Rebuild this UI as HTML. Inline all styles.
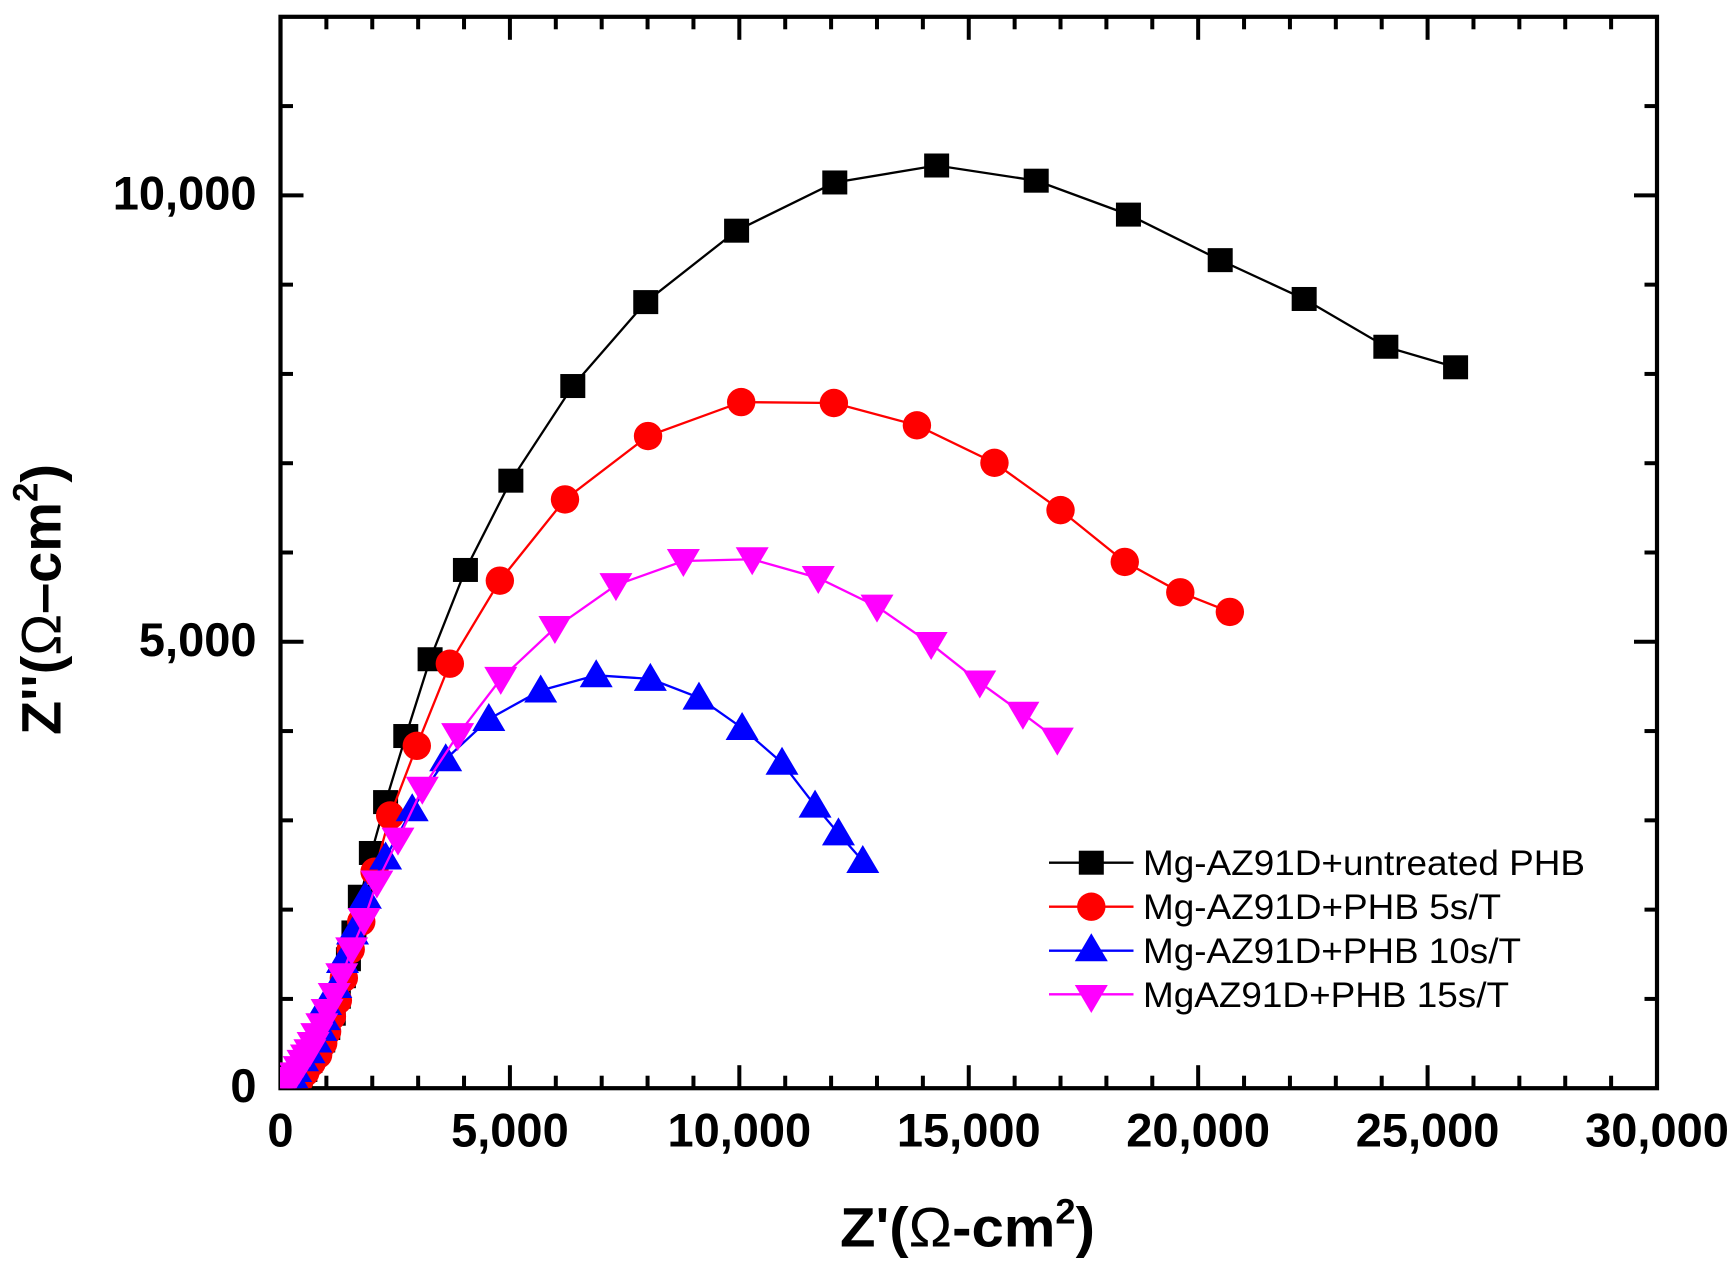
<!DOCTYPE html>
<html lang="en">
<head>
<meta charset="utf-8">
<title>Nyquist plot of Mg-AZ91D with PHB coatings</title>
<style>
html,body{margin:0;padding:0;background:#fff;}
svg{display:block;font-family:"Liberation Sans",Arial,sans-serif;}
</style>
</head>
<body>
<svg id="chart" xmlns="http://www.w3.org/2000/svg" width="1734" height="1271" viewBox="0 0 1734 1271">
  <rect width="1734" height="1271" fill="#fff"/>
  <defs><clipPath id="plot-clip"><rect x="280" y="16.8" width="1377" height="1071.5"/></clipPath></defs>
  <g id="axes"></g>
  <g id="series" clip-path="url(#plot-clip)"></g>
  <g id="legend"></g>
  <text x="840" y="1246.5" font-size="56" font-weight="bold" fill="#000" textLength="255" lengthAdjust="spacingAndGlyphs">Z'(<tspan font-weight="normal">Ω</tspan>-cm<tspan dy="-23" font-size="35">2</tspan><tspan dy="23">)</tspan></text>
  <text transform="translate(60.5 735) rotate(-90)" font-size="56" font-weight="bold" fill="#000" textLength="271" lengthAdjust="spacingAndGlyphs">Z''(<tspan font-weight="normal">Ω</tspan>–cm<tspan dy="-23" font-size="35">2</tspan><tspan dy="23">)</tspan></text>
</svg>
<script>
var xTickLabels = ['0', '5,000', '10,000', '15,000', '20,000', '25,000', '30,000'];
var xTickValues = [0, 5000, 10000, 15000, 20000, 25000, 30000];
var yTickLabels = ['0', '5,000', '10,000'];
var yTickValues = [0, 5000, 10000];
var xMax = 30000;
var yMax = 12000;
var xMinorStep = 1000;
var yMinorStep = 1000;

var seriesNames = ['Mg-AZ91D+untreated PHB', 'Mg-AZ91D+PHB 5s/T', 'Mg-AZ91D+PHB 10s/T', 'MgAZ91D+PHB 15s/T'];

var untreatedX = [25630, 24110, 22330, 20500, 18500, 16490, 14320, 12100, 9960, 7980, 6390, 5040, 4050, 3280, 2750, 2310, 2000, 1760, 1620, 1500, 1390, 1280, 1170, 1050, 940, 800, 660, 550, 450, 360];
var untreatedY = [8070, 8300, 8835, 9270, 9780, 10160, 10330, 10140, 9600, 8800, 7860, 6800, 5800, 4800, 3940, 3200, 2630, 2140, 1740, 1440, 1250, 1020, 830, 670, 530, 400, 300, 200, 100, 30];

var phb5X = [20710, 19630, 18420, 17020, 15580, 13890, 12080, 10060, 8030, 6220, 4800, 3710, 2990, 2410, 2070, 1780, 1550, 1400, 1270, 1140, 1035, 950, 840, 700, 560, 430, 330];
var phb5Y = [5330, 5550, 5890, 6470, 7000, 7420, 7670, 7680, 7300, 6590, 5680, 4750, 3830, 3050, 2420, 1860, 1550, 1230, 980, 800, 630, 500, 370, 280, 170, 80, 20];

var phb10X = [12710, 12180, 11670, 10950, 10080, 9140, 8080, 6900, 5690, 4560, 3620, 2890, 2310, 1870, 1590, 1370, 1225, 1000, 970, 900, 790, 640, 500, 350, 270, 200];
var phb10Y = [2540, 2850, 3160, 3640, 4030, 4370, 4580, 4620, 4450, 4130, 3680, 3120, 2580, 2140, 1740, 1420, 1140, 950, 780, 660, 530, 410, 320, 200, 130, 60];

var phb15X = [16950, 16200, 15260, 14200, 13020, 11740, 10300, 8800, 7330, 6000, 4820, 3880, 3110, 2580, 2120, 1840, 1570, 1355, 1190, 1035, 920, 810, 730, 660, 585, 510, 425, 340, 250, 170, 100, 50];
var phb15Y = [3900, 4190, 4540, 4970, 5390, 5710, 5920, 5900, 5630, 5150, 4580, 3950, 3350, 2780, 2300, 1880, 1550, 1260, 1040, 860, 700, 590, 490, 410, 350, 290, 220, 150, 100, 60, 30, 10];

var NS = 'http://www.w3.org/2000/svg';
var plotLeft = 280.5, plotRight = 1657, plotTop = 16.8, plotBottom = 1088.2;

function xScale(v) { return plotLeft + (v / xMax) * (plotRight - plotLeft); }
function yScale(v) { return plotBottom - (v / yMax) * (plotBottom - plotTop); }

function make(tag, attrs, parent) {
  var el = document.createElementNS(NS, tag);
  for (var k in attrs) { el.setAttribute(k, attrs[k]); }
  parent.appendChild(el);
  return el;
}

function drawMarker(kind, cx, cy, color, parent) {
  var el;
  if (kind === 'square') {
    el = make('rect', { x: cx - 12.5, y: cy - 12, width: 25, height: 24, fill: color }, parent);
  } else if (kind === 'circle') {
    el = make('circle', { cx: cx, cy: cy, r: 14.2, fill: color }, parent);
  } else if (kind === 'up') {
    el = make('polygon', { points: (cx - 16.5) + ',' + (cy + 12) + ' ' + (cx + 16.5) + ',' + (cy + 12) + ' ' + cx + ',' + (cy - 16), fill: color }, parent);
  } else {
    el = make('polygon', { points: (cx - 16.5) + ',' + (cy - 12) + ' ' + (cx + 16.5) + ',' + (cy - 12) + ' ' + cx + ',' + (cy + 16), fill: color }, parent);
  }
  return el;
}

var axes = document.getElementById('axes');
var frame = make('rect', { x: plotLeft, y: plotTop, width: plotRight - plotLeft, height: plotBottom - plotTop, fill: 'none', stroke: '#000', 'stroke-width': 4.2 }, axes);



var v, isMajor, len, tick;
for (v = xMinorStep; v < xMax; v += xMinorStep) {
  isMajor = xTickValues.indexOf(v) >= 0;
  len = isMajor ? 23 : 12.5;
  tick = make('line', { x1: xScale(v), x2: xScale(v), y1: plotBottom, y2: plotBottom - len, stroke: '#000', 'stroke-width': 4 }, axes);
  
  
  tick = make('line', { x1: xScale(v), x2: xScale(v), y1: plotTop, y2: plotTop + len, stroke: '#000', 'stroke-width': 4 }, axes);
  
  
}
for (v = yMinorStep; v < yMax; v += yMinorStep) {
  isMajor = yTickValues.indexOf(v) >= 0;
  len = isMajor ? 23 : 12.5;
  tick = make('line', { x1: plotLeft, x2: plotLeft + len, y1: yScale(v), y2: yScale(v), stroke: '#000', 'stroke-width': 4 }, axes);
  
  
  tick = make('line', { x1: plotRight, x2: plotRight - len, y1: yScale(v), y2: yScale(v), stroke: '#000', 'stroke-width': 4 }, axes);
  
  
}

var i, label;
for (i = 0; i < xTickValues.length; i++) {
  label = make('text', { x: xScale(xTickValues[i]), y: 1146.5, 'text-anchor': 'middle', 'font-size': 47, 'font-weight': 'bold', fill: '#000' }, axes);
  label.textContent = xTickLabels[i];
  
  
}
for (i = 0; i < yTickValues.length; i++) {
  label = make('text', { x: 256.5, y: yScale(yTickValues[i]) + 14, 'text-anchor': 'end', 'font-size': 47, 'font-weight': 'bold', fill: '#000' }, axes);
  label.textContent = yTickLabels[i];
  
  
}

var seriesX = [untreatedX, phb5X, phb10X, phb15X];
var seriesY = [untreatedY, phb5Y, phb10Y, phb15Y];
var seriesColors = ['#000000', '#ff0000', '#0000ff', '#ff00ff'];
var seriesMarkers = ['square', 'circle', 'up', 'down'];
var seriesGroup = document.getElementById('series');
var s, j, pts, line, mark, group;
for (s = 0; s < seriesX.length; s++) {
  group = make('g', { transform: 'translate(-0.9 -0.4)' }, seriesGroup);
  
  
  pts = [];
  for (j = 0; j < seriesX[s].length; j++) {
    pts.push(xScale(seriesX[s][j]) + ',' + yScale(seriesY[s][j]));
  }
  line = make('polyline', { points: pts.join(' '), fill: 'none', stroke: seriesColors[s], 'stroke-width': 2.3 }, group);
  
  
  for (j = 0; j < seriesX[s].length; j++) {
    mark = drawMarker(seriesMarkers[s], xScale(seriesX[s][j]), yScale(seriesY[s][j]), seriesColors[s], group);
    
    
  }
}

var legend = document.getElementById('legend');
var legendRowY = [862.7, 906.7, 950.7, 994.3];
var legendMarkerOffset = [0, 0, -1.4, 2.7];
var legendWidths = [442, 358, 378, 366];
var entry, lgLine, lgMark, lgText;
for (s = 0; s < seriesNames.length; s++) {
  entry = make('g', {}, legend);
  
  
  lgLine = make('line', { x1: 1049, x2: 1133.5, y1: legendRowY[s], y2: legendRowY[s], stroke: seriesColors[s], 'stroke-width': 2.3 }, entry);
  
  
  lgMark = drawMarker(seriesMarkers[s], 1091.3, legendRowY[s] + legendMarkerOffset[s], seriesColors[s], entry);
  
  
  lgText = make('text', { x: 1143, y: legendRowY[s] + 12.5, 'font-size': 35, fill: '#000', textLength: legendWidths[s], lengthAdjust: 'spacingAndGlyphs' }, entry);
  lgText.textContent = seriesNames[s];
  
  
}
</script>
</body>
</html>
